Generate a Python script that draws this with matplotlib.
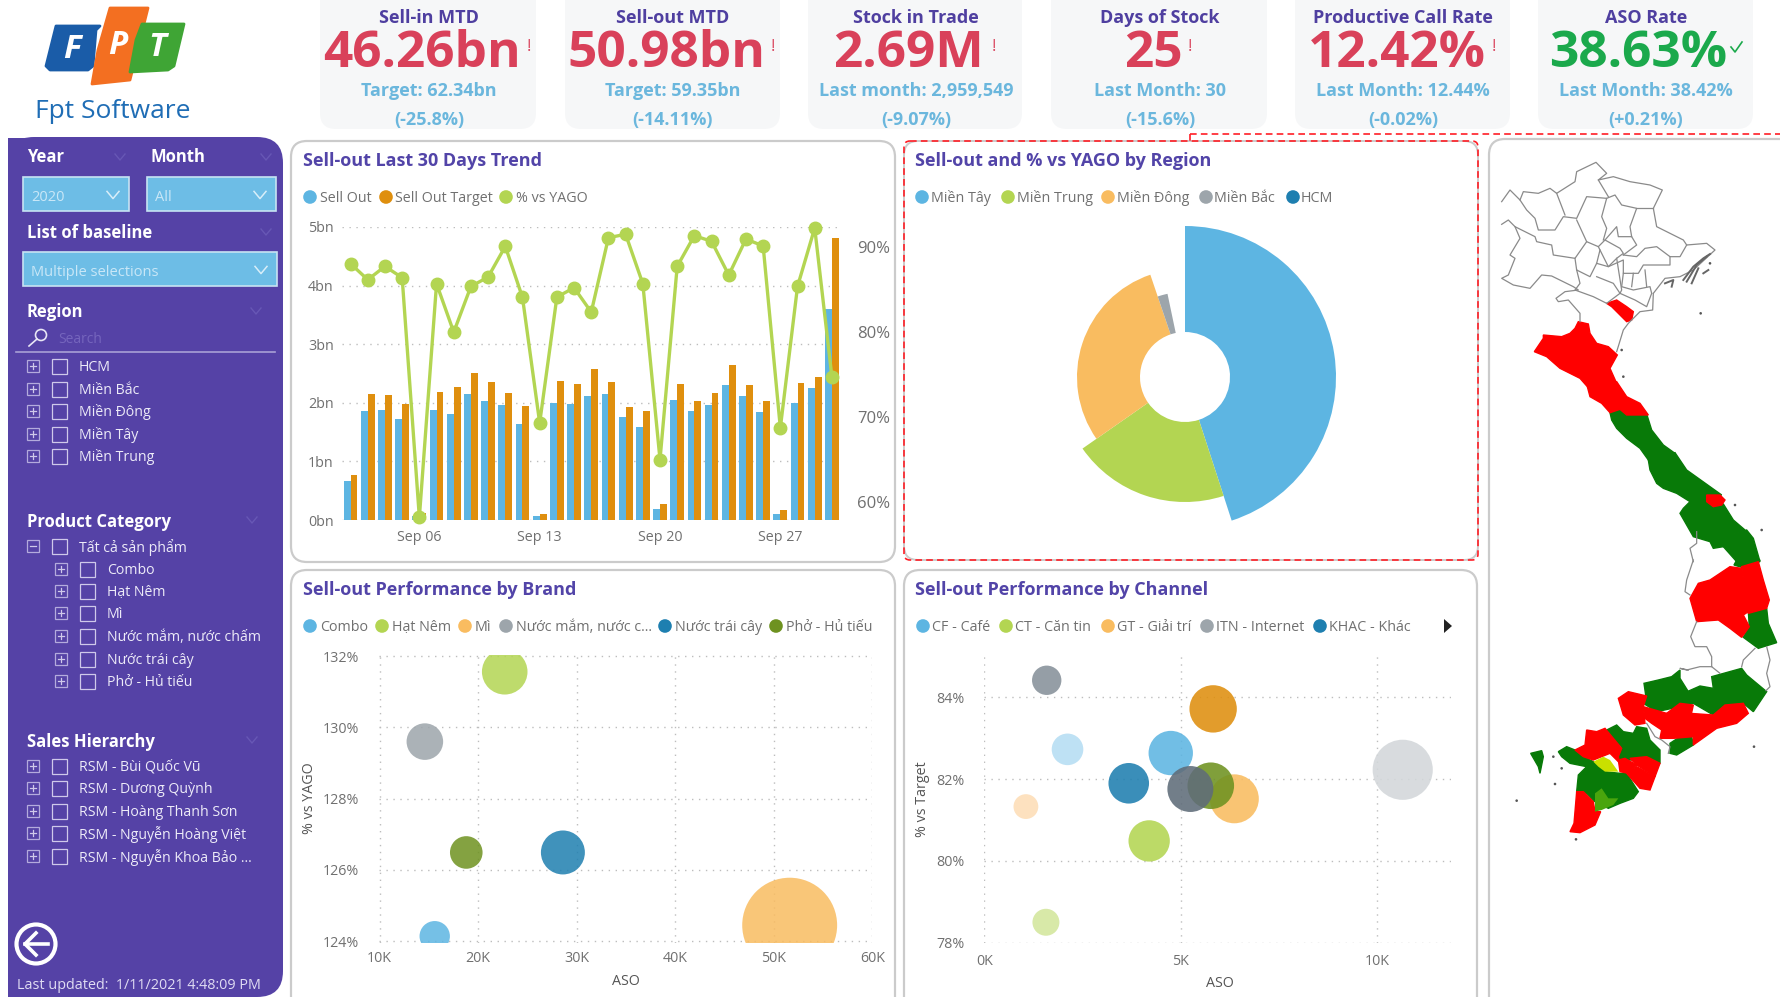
import numpy as np
import matplotlib
matplotlib.use("Agg")
import matplotlib.pyplot as plt
from matplotlib.patches import FancyBboxPatch, Rectangle, Circle, Polygon
from matplotlib.ticker import FuncFormatter

W, H = 1781, 997
plt.rcParams['font.family'] = ['Open Sans', 'Noto Sans', 'DejaVu Sans']

# ---------- data ----------
kpi_titles = ["Sell-in MTD", "Sell-out MTD", "Stock in Trade", "Days of Stock", "Productive Call Rate", "ASO Rate"]
kpi_values = ["46.26bn", "50.98bn", "2.69M", "25", "12.42%", "38.63%"]
kpi_refs = ["Target: 62.34bn", "Target: 59.35bn", "Last month: 2,959,549", "Last Month: 30", "Last Month: 12.44%", "Last Month: 38.42%"]
kpi_deltas = ["(-25.8%)", "(-14.11%)", "(-9.07%)", "(-15.6%)", "(-0.02%)", "(+0.21%)"]

days = ["Sep 02", "Sep 03", "Sep 04", "Sep 05", "Sep 06", "Sep 07", "Sep 08", "Sep 09", "Sep 10", "Sep 11",
        "Sep 12", "Sep 13", "Sep 14", "Sep 15", "Sep 16", "Sep 17", "Sep 18", "Sep 19", "Sep 20", "Sep 21",
        "Sep 22", "Sep 23", "Sep 24", "Sep 25", "Sep 26", "Sep 27", "Sep 28", "Sep 29", "Sep 30"]
sell_out = [0.67, 1.86, 1.87, 1.72, 0.07, 1.87, 1.81, 2.15, 2.03, 1.97, 1.63, 0.07, 2.00, 1.98, 2.11,
            2.15, 1.76, 1.59, 0.18, 2.04, 1.86, 1.97, 2.30, 2.11, 1.84, 0.11, 1.99, 2.25, 3.60]
sell_target = [0.76, 2.15, 2.13, 1.98, 0.12, 2.18, 2.27, 2.51, 2.35, 2.17, 1.94, 0.10, 2.38, 2.32, 2.57,
               2.36, 1.92, 1.86, 0.27, 2.32, 2.03, 2.17, 2.65, 2.31, 2.03, 0.17, 2.33, 2.44, 4.82]
vs_yago = [88.07, 86.18, 87.76, 86.42, 58.15, 85.71, 80.0, 85.39, 86.5, 90.12, 84.09, 69.29, 84.13, 85.24, 82.36,
           91.14, 91.54, 85.71, 64.96, 87.76, 91.38, 90.71, 86.73, 90.98, 90.16, 68.7, 85.39, 92.28, 74.72]

regions = ["Miền Tây", "Miền Trung", "Miền Đông", "Miền Bắc", "HCM"]
region_share = [45.0, 20.3, 29.5, 1.9, 3.3]
region_yago = [151, 125, 108, 85, 45]

brands = ["Combo", "Hạt Nêm", "Mì", "Nước mắm, nước c...", "Nước trái cây", "Phở - Hủ tiếu"]
brand_aso = [15.6, 22.7, 51.6, 14.6, 28.6, 18.8]
brand_pct = [124.14, 131.56, 124.45, 129.6, 126.49, 126.49]
brand_size = [231, 520, 2256, 335, 484, 266]

channels = ["CF - Café", "CT - Căn tin", "GT - Giải trí", "ITN - Internet", "KHAC - Khác"]
channel_aso = [1.59, 5.83, 2.12, 4.75, 3.68, 10.66, 1.06, 4.2, 1.57, 6.37, 5.77, 5.25]
channel_pct = [84.42, 83.72, 82.73, 82.64, 81.9, 82.23, 81.33, 80.49, 78.5, 81.52, 81.84, 81.76]
channel_size = [216, 562, 250, 493, 412, 906, 154, 428, 182, 600, 543, 529]

region_tree = ["HCM", "Miền Bắc", "Miền Đông", "Miền Tây", "Miền Trung"]
product_tree = ["Combo", "Hạt Nêm", "Mì", "Nước mắm, nước chấm", "Nước trái cây", "Phở - Hủ tiếu"]
sales_tree = ["RSM - Bùi Quốc Vũ", "RSM - Dương Quỳnh", "RSM - Hoàng Thanh Sơn", "RSM - Nguyễn Hoàng Việt", "RSM - Nguyễn Khoa Bảo ..."]

# ---------- styles ----------
BLUE, GREEN, ORANGE, GRAY, DBLUE, OLIVE = "#5DB5E2", "#B3D552", "#F9BC60", "#9DA5AB", "#1E7FB0", "#6E9220"
DORANGE = "#DF8F0E"
PURPLE = "#5542A6"
TITLE = "#5244A8"
TXT = "#707070"
GRID = "#BDBDBD"
DOT = (0, (1, 4))
SKY = "#6DBDE6"
RED, DGREEN = "#FF0000", "#087A08"

fig = plt.figure(figsize=(W / 100, H / 100), dpi=100, facecolor="white")
ov = fig.add_axes([0, 0, 1, 1], zorder=0)
ov.set_xlim(0, W); ov.set_ylim(H, 0); ov.axis("off")


def axes_px(l, t, r, b, **kw):
    return fig.add_axes([l / W, 1 - b / H, (r - l) / W, (b - t) / H], **kw)


def rbox(x0, y0, x1, y1, rad, **kw):
    ov.add_patch(FancyBboxPatch((x0, y0), x1 - x0, y1 - y0, boxstyle=f"round,pad=0,rounding_size={rad}", **kw))


# ---------- logo ----------
ov.add_patch(Polygon([(56, 26), (100, 26), (96, 30), (93, 66), (88, 70), (50, 70), (46, 66)], closed=True, fc="#1A5CA8", ec="#1A5CA8", lw=2, joinstyle="round"))
ov.add_patch(Polygon([(110, 8), (148, 8), (130, 80), (92, 84), (98, 50)], closed=True, fc="#F36F21", ec="#F36F21", lw=2, joinstyle="round"))
ov.add_patch(Polygon([(142, 24), (184, 24), (174, 66), (168, 70), (130, 72), (136, 40)], closed=True, fc="#3FA535", ec="#3FA535", lw=2, joinstyle="round"))
for x, y, s in [(72, 49, "F"), (118, 46, "P"), (157, 47, "T")]:
    ov.text(x, y, s, color="white", fontsize=24, fontweight="bold", style="italic", ha="center", va="center")
ov.text(113, 111, "Fpt Software", color="#1F6DB5", fontsize=19, ha="center", va="center")

# ---------- KPI cards ----------
card_x = [(320, 536), (565, 780), (808, 1022), (1051, 1267), (1295, 1510), (1538, 1753)]
title_cx = [429, 673, 916, 1160, 1403, 1646]
value_cx = [422, 666, 908, 1153, 1397, 1638]
mark_x = [529, 773, 994, 1190, 1494, 1736]
for i in range(6):
    rbox(card_x[i][0], -20, card_x[i][1], 129, 16, fc="#F6F7F8", ec="none")
    ok = i == 5
    col = "#1BA94C" if ok else "#D9415A"
    ov.text(title_cx[i], 18, kpi_titles[i], color="#4F3FA0", fontsize=13, fontweight="bold", ha="center", va="center")
    ov.text(value_cx[i], 54, kpi_values[i], color=col, fontsize=37, fontweight="bold", ha="center", va="center")
    ov.text(title_cx[i], 91, kpi_refs[i], color="#6BB7DD", fontsize=13, fontweight="bold", ha="center", va="center")
    ov.text(title_cx[i], 120, kpi_deltas[i], color="#6BB7DD", fontsize=13, fontweight="bold", ha="center", va="center")
    if ok:
        ov.plot([mark_x[i] - 5, mark_x[i] - 1, mark_x[i] + 6], [47, 52, 42], color=col, lw=1.2)
    else:
        ov.text(mark_x[i], 47, "!", color=col, fontsize=12, ha="center", va="center")

# ---------- sidebar ----------
rbox(8, 137, 283, 997, 26, fc=PURPLE, ec="none")
ov.add_patch(Rectangle((8, 138), 100, 859, fc=PURPLE, ec="none"))


def header(x, y, s):
    ov.text(x, y + 1.5, s, color="white", fontsize=12, fontweight="bold", ha="left", va="center")


def chevron(x, y, col="#D8EEF9", s=6, lw=1.1):
    ov.plot([x - s, x, x + s], [y - s * 0.6, y + s * 0.6, y - s * 0.6], color=col, lw=lw)


def dropdown(x0, y0, x1, y1, s):
    ov.add_patch(Rectangle((x0, y0), x1 - x0, y1 - y0, fc=SKY, ec="#C7E3F3", lw=1.2))
    ov.text(x0 + 8, (y0 + y1) / 2 + 3, s, color="#C9E7F7", fontsize=10.5, ha="left", va="center")
    chevron(x1 - 16, (y0 + y1) / 2 + 1)


header(27, 156, "Year"); header(151, 156, "Month")
dropdown(23, 177, 129, 211, "2020")
dropdown(147, 177, 276, 211, "All")
header(27, 231, "List of baseline")
dropdown(23, 252, 277, 286, "Multiple selections")
header(27, 310, "Region")
for x, y in [(120, 157), (266, 157), (266, 232), (256, 311), (252, 520), (252, 740)]:
    chevron(x, y, col="#6757B5", s=5, lw=1)
ov.add_patch(Circle((41, 335), 5.5, fc="none", ec="#E8E6F5", lw=1.2))
ov.plot([29, 37], [346, 339], color="#E8E6F5", lw=1.2)
ov.text(58, 339, "Search", color="#7565BD", fontsize=10, ha="left", va="center")
ov.plot([16, 275], [352, 352], color="#A9A0D6", lw=1.2)


def tree_row(y, s, xbox, sign="+"):
    ov.add_patch(Rectangle((xbox - 6, y - 6), 12, 12, fc="none", ec="#B4ABDD", lw=0.9))
    ov.plot([xbox - 3, xbox + 3], [y, y], color="#CFC9EA", lw=0.9)
    if sign == "+":
        ov.plot([xbox, xbox], [y - 3, y + 3], color="#CFC9EA", lw=0.9)
    ov.add_patch(Rectangle((xbox + 19, y - 7.5), 15, 15, fc="none", ec="#CFC9EA", lw=0.9))
    ov.text(xbox + 46, y + 1, s, color="#EDEBF8", fontsize=10.2, ha="left", va="center")


for y, s in zip([366, 389, 411, 434, 456], region_tree):
    tree_row(y, s, 33)
header(27, 520, "Product Category")
tree_row(546, "Tất cả sản phẩm", 33, "-")
for y, s in zip([569, 591, 613, 636, 659, 681], product_tree):
    tree_row(y, s, 61)
header(27, 740, "Sales Hierarchy")
for y, s in zip([766, 788, 811, 833, 856], sales_tree):
    tree_row(y, s, 33)
ov.add_patch(Circle((36, 944), 19.5, fc="none", ec="white", lw=3))
ov.plot([48, 25], [944, 944], color="white", lw=2.6)
ov.plot([36, 25, 36], [933, 944, 955], color="white", lw=2.6)
ov.text(17, 985.5, "Last updated:  1/11/2021 4:48:09 PM", color="#E0DCF3", fontsize=10.4, ha="left", va="center")

# ---------- panels ----------
EDGE = "#CBCBCB"
RDASH = "#FF1E26"
rbox(291, 141, 895, 562, 16, fc="white", ec=EDGE, lw=1.6)
rbox(904, 141, 1478, 560, 14, fc="white", ec=EDGE, lw=1.4)
rbox(291, 570, 895, 1030, 16, fc="white", ec=EDGE, lw=1.6)
rbox(904, 570, 1477, 1030, 16, fc="white", ec=EDGE, lw=1.6)
rbox(1489, 139, 1830, 1030, 16, fc="white", ec=EDGE, lw=1.6)
rbox(904, 141, 1478, 560, 6, fc="none", ec=RDASH, lw=1.2, ls=(0, (4, 2.5)))
ov.plot([1190, 1781], [134, 134], color=RDASH, lw=1.2, ls=(0, (4, 2.5)))
ov.plot([1190, 1190], [134, 141], color=RDASH, lw=1.2, ls=(0, (4, 2.5)))


def title(x, y, s):
    ov.text(x, y + 1.5, s, color=TITLE, fontsize=13, fontweight="bold", ha="left", va="center")


def legend(y, circles, texts, labels, colors):
    for cx, tx, s, c in zip(circles, texts, labels, colors):
        ov.add_patch(Circle((cx, y), 6.8, fc=c, ec="none"))
        ov.text(tx, y + 1, s, color=TXT, fontsize=10.3, ha="left", va="center")


title(303, 159, "Sell-out Last 30 Days Trend")
title(915, 159, "Sell-out and % vs YAGO by Region")
title(303, 588, "Sell-out Performance by Brand")
title(915, 588, "Sell-out Performance by Channel")

legend(197, [310, 386, 506], [320, 395, 516], ["Sell Out", "Sell Out Target", "% vs YAGO"], [BLUE, DORANGE, GREEN])
legend(197, [922, 1008, 1108, 1206, 1293], [931, 1017, 1117, 1214, 1301], regions, [BLUE, GREEN, ORANGE, GRAY, DBLUE])
legend(626, [310, 382, 465, 506, 665, 776], [320, 392, 475, 516, 675, 786], brands, [BLUE, GREEN, ORANGE, GRAY, DBLUE, OLIVE])
legend(626, [923, 1006, 1108, 1207, 1320], [932, 1015, 1117, 1216, 1329], channels, [BLUE, GREEN, ORANGE, GRAY, DBLUE])
ov.add_patch(Polygon([(1444, 619), (1452, 626), (1444, 633)], closed=True, fc="#222222", ec="none"))

# ---------- combo chart ----------
a1 = axes_px(342, 227, 840.5, 520, zorder=2)
a1.patch.set_alpha(0)
x = np.arange(len(days))
a1.bar(x - 0.2, sell_out, 0.4, color=BLUE, zorder=2)
a1.bar(x + 0.2, sell_target, 0.4, color=DORANGE, zorder=2)
a1.set_xlim(-0.5, 28.5); a1.set_ylim(0, 5)
a1.set_yticks(range(6))
a1.yaxis.set_major_formatter(FuncFormatter(lambda v, _: f"{int(v)}bn"))
a1.set_xticks(x[4::7]); a1.set_xticklabels(days[4::7])
a1.grid(axis="y", color=GRID, ls=DOT, lw=1)
a1.set_axisbelow(True)
a1.tick_params(length=0, labelsize=10.3, labelcolor=TXT, pad=6)
a1.tick_params(axis="x", pad=7)
for s in a1.spines.values():
    s.set_visible(False)
a1r = a1.twinx()
a1r.set_zorder(3)
a1r.plot(x, vs_yago, color=GREEN, lw=2.4, marker="o", ms=9, clip_on=False)
a1r.set_ylim(57.84, 92.4)
a1r.set_yticks([60, 70, 80, 90])
a1r.yaxis.set_major_formatter(FuncFormatter(lambda v, _: f"{int(v)}%"))
a1r.tick_params(length=0, labelsize=12, labelcolor=TXT, pad=12)
for s in a1r.spines.values():
    s.set_visible(False)

# ---------- rose / pie ----------
ap = axes_px(1185 - 160, 377 - 160, 1185 + 160, 377 + 160, projection="polar", zorder=2)
ap.patch.set_alpha(0)
ap.set_theta_zero_location("N"); ap.set_theta_direction(-1)
widths = np.array(region_share) / 100 * 2 * np.pi
starts = np.concatenate([[0], np.cumsum(widths)[:-1]])
INNER = 45
ap.bar(starts, np.array(region_yago) - INNER, widths, bottom=INNER, align="edge",
       color=[BLUE, GREEN, ORANGE, GRAY, DBLUE], ec="none")
ap.set_ylim(0, 160); ap.axis("off")


# ---------- bubbles ----------
def scatter_style(ax, xlabel_pos, ylabel_pos, xlabel, ylabel):
    ax.patch.set_alpha(0)
    ax.grid(True, color=GRID, ls=DOT, lw=1)
    ax.set_axisbelow(True)
    ax.tick_params(length=0, labelsize=10.3, labelcolor=TXT)
    for s in ax.spines.values():
        s.set_visible(False)
    ov.text(*xlabel_pos, xlabel, color="#555555", fontsize=10.3, ha="center", va="center")
    ov.text(*ylabel_pos, ylabel, color="#555555", fontsize=10.3, ha="center", va="center", rotation=90)


AREA = 2.07
a3 = axes_px(379.5, 655, 872.5, 943, zorder=2)
a3.scatter(brand_aso, brand_pct, s=np.array(brand_size) * AREA,
           c=[BLUE, GREEN, ORANGE, GRAY, DBLUE, OLIVE], alpha=0.85, ec="none", zorder=3)
a3.set_xlim(10, 60); a3.set_ylim(123.95, 132.03)
a3.set_xticks([10, 20, 30, 40, 50, 60]); a3.set_yticks([124, 126, 128, 130, 132])
a3.xaxis.set_major_formatter(FuncFormatter(lambda v, _: f"{int(v)}K"))
a3.yaxis.set_major_formatter(FuncFormatter(lambda v, _: f"{int(v)}%"))
scatter_style(a3, (626, 981), (310, 798), "ASO", "% vs YAGO")
a3.tick_params(axis="y", pad=15); a3.tick_params(axis="x", pad=6)

a4 = axes_px(984.3, 653.3, 1451.4, 942.7, zorder=2)
channel_colors = ["#87919A", "#DF8F0E", "#B5DDF3", "#5DB5E2", "#1E7FB0", "#D3D7DA",
                  "#FDDDB6", "#B3D552", "#D3E69C", ORANGE, OLIVE, "#5F6C79"]
a4.scatter(channel_aso, channel_pct, s=np.array(channel_size) * AREA, c=channel_colors,
           alpha=0.88, ec="none", zorder=3)
a4.set_xlim(0, 11.9); a4.set_ylim(78, 85.08)
a4.set_xticks([0, 5, 10]); a4.set_yticks([78, 80, 82, 84])
a4.xaxis.set_major_formatter(FuncFormatter(lambda v, _: f"{int(v)}K"))
a4.yaxis.set_major_formatter(FuncFormatter(lambda v, _: f"{int(v)}%"))
scatter_style(a4, (1220, 983), (923, 799), "ASO", "% vs Target")
a4.tick_params(axis="y", pad=14); a4.tick_params(axis="x", pad=8)

# ---------- map (outline, crop coordinates, 3x) ----------
def m(pts, off):
    return [(1480 + px / 3, off + py / 3) for px, py in pts]


north_outline = [(65, 215), (90, 180), (120, 210), (130, 185), (175, 190), (210, 175), (230, 190), (285, 155), (290, 125),
                 (348, 97), (380, 130), (355, 150), (400, 140), (450, 155), (510, 165), (547, 180), (520, 235), (530, 290),
                 (610, 330), (620, 345), (680, 340), (705, 360), (640, 420), (600, 440), (555, 445), (520, 490), (518, 540),
                 (480, 545), (445, 580), (430, 600), (410, 665)]
north_outline2 = [(300, 575), (300, 550), (265, 510), (235, 515), (228, 505), (255, 485), (295, 480), (280, 470), (215, 438),
                  (185, 435), (150, 475), (100, 465), (65, 445), (85, 435), (105, 385), (90, 375), (120, 325), (105, 290),
                  (85, 270), (65, 283)]
north_lines = [
    [(120, 210), (140, 240), (165, 265), (175, 300), (225, 300), (250, 260), (290, 265), (320, 200), (380, 205), (365, 260), (380, 295), (370, 330)],
    [(230, 190), (255, 255)],
    [(105, 290), (165, 320), (170, 335), (215, 345), (220, 375), (285, 385), (320, 335), (290, 270)],
    [(320, 335), (355, 350), (375, 330), (410, 290), (415, 320), (455, 320), (450, 290), (470, 235), (425, 225), (405, 195), (380, 205)],
    [(355, 150), (385, 200)], [(520, 235), (470, 235)],
    [(285, 385), (290, 420), (330, 440), (350, 400), (360, 360), (355, 350)],
    [(360, 360), (385, 410), (410, 385), (430, 370), (420, 355), (375, 330)],
    [(430, 375), (470, 380), (495, 355), (530, 350), (570, 380), (600, 380), (620, 345)],
    [(455, 320), (470, 345), (430, 375)],
    [(350, 400), (385, 410), (430, 390), (430, 430), (475, 430), (490, 405), (570, 405), (570, 380)],
    [(290, 420), (300, 460), (285, 480), (340, 500), (380, 520)],
    [(430, 430), (425, 470), (460, 480), (510, 470), (515, 490)],
    [(410, 385), (425, 480), (420, 490), (380, 520)],
    [(460, 430), (455, 470)], [(500, 470), (495, 420)],
    [(350, 440), (400, 460), (420, 490), (465, 510), (500, 530), (515, 490)],
]
for ln in [north_outline, north_outline2] + north_lines:
    p = m(ln, 130)
    ov.plot(*zip(*p), color="#8A8A8A", lw=0.9, solid_joinstyle="round")
for ln in [[(610, 450), (640, 410), (670, 385), (690, 372)], [(620, 455), (650, 405), (680, 380)], [(635, 460), (655, 415)],
           [(555, 460), (580, 450), (575, 470)], [(670, 430), (685, 420)]]:
    ov.plot(*zip(*m(ln, 130)), color="#666666", lw=1.4)

red_z9 = [
    [(380, 520), (410, 510), (440, 530), (460, 545), (455, 570), (440, 575), (415, 550), (395, 530)],
    [(295, 575), (325, 582), (330, 610), (350, 640), (385, 650), (412, 675), (390, 715), (410, 760), (350, 770), (322, 770), (300, 745), (240, 715), (200, 680), (163, 665), (190, 625), (190, 615), (245, 620), (270, 610), (285, 595)],
    [(322, 770), (410, 755), (440, 800), (480, 820), (505, 855), (440, 855), (420, 838), (390, 848), (365, 820), (330, 800)],
]
green_z9 = [
    [(390, 848), (420, 838), (445, 855), (500, 852), (515, 900), (550, 945), (585, 970), (540, 990), (505, 990), (480, 955), (440, 925), (410, 895), (395, 870)],
    [(505, 990), (585, 968), (620, 1020), (690, 1070), (725, 1095), (680, 1105), (680, 1110), (630, 1115), (590, 1090), (550, 1075), (530, 1060), (510, 1020)],
    [(630, 1115), (680, 1110), (700, 1130), (730, 1122), (760, 1170), (795, 1200), (740, 1215), (730, 1250), (700, 1255), (690, 1235), (640, 1220), (600, 1150), (610, 1135)],
    [(740, 1215), (800, 1200), (820, 1225), (840, 1295), (770, 1295), (730, 1250)],
]
red_z9b = [[(680, 1095), (720, 1095), (735, 1110), (725, 1125), (700, 1130), (680, 1115)]]
red_z10 = [
    [(630, 115), (655, 70), (690, 60), (750, 20), (785, 25), (805, 155), (790, 165), (808, 200), (785, 232), (750, 205), (715, 180), (650, 185)],
    [(785, 20), (835, 5), (850, 60), (868, 120), (860, 145), (805, 160)],
    [(415, 415), (445, 395), (500, 408), (490, 440), (495, 490), (465, 495), (430, 465)],
    [(490, 440), (525, 450), (560, 460), (545, 510), (515, 490), (495, 475)],
    [(560, 460), (600, 430), (640, 435), (630, 480), (640, 530), (580, 535), (540, 535), (545, 510)],
    [(630, 460), (700, 465), (735, 435), (790, 430), (805, 460), (770, 490), (710, 505), (640, 555), (640, 530), (625, 490)],
    [(285, 570), (315, 555), (320, 510), (350, 515), (375, 505), (400, 535), (425, 565), (415, 590), (420, 610), (390, 580), (365, 590), (340, 600), (310, 590)],
    [(415, 600), (435, 595), (470, 615), (445, 640), (420, 635)],
    [(450, 595), (500, 590), (540, 610), (525, 650), (470, 615)],
    [(440, 640), (470, 620), (525, 650), (510, 690), (480, 685)],
    [(290, 695), (310, 695), (340, 725), (345, 755), (362, 755), (345, 795), (300, 818), (270, 815), (282, 790)],
]
green_z10 = [
    [(762, 15), (770, 0), (840, 0), (835, 8), (785, 22)],
    [(805, 155), (860, 145), (865, 190), (890, 248), (835, 265), (790, 232), (808, 200)],
    [(492, 370), (535, 360), (575, 350), (600, 330), (600, 355), (625, 395), (610, 410), (600, 440), (530, 455), (490, 430), (497, 405)],
    [(610, 400), (660, 378), (700, 385), (695, 350), (785, 325), (800, 345), (860, 395), (820, 455), (790, 430), (735, 435), (700, 465), (640, 430), (600, 440)],
    [(570, 550), (600, 530), (635, 530), (640, 555), (590, 585), (570, 580)],
    [(380, 510), (410, 495), (430, 515), (460, 520), (470, 500), (500, 505), (510, 540), (540, 570), (540, 610), (500, 600), (460, 600), (415, 600), (425, 560), (400, 535)],
    [(235, 575), (260, 560), (285, 570), (310, 590), (340, 605), (355, 620), (375, 635), (420, 640), (440, 640), (475, 695), (460, 715), (420, 730), (385, 745), (345, 725), (320, 700), (290, 695), (295, 645), (320, 620), (270, 610), (245, 590)],
    [(152, 580), (185, 572), (190, 590), (180, 640), (175, 620)],
]
for poly in green_z9:
    ov.add_patch(Polygon(m(poly, 130), closed=True, fc=DGREEN, ec=DGREEN, lw=1))
for poly in red_z9 + red_z9b:
    ov.add_patch(Polygon(m(poly, 130), closed=True, fc=RED, ec=RED, lw=1))
for poly in green_z10:
    ov.add_patch(Polygon(m(poly, 560), closed=True, fc=DGREEN, ec=DGREEN, lw=1))
for poly in red_z10:
    ov.add_patch(Polygon(m(poly, 560), closed=True, fc=RED, ec=RED, lw=1))
ov.add_patch(Polygon(m([(340, 605), (370, 590), (390, 600), (415, 635), (375, 635), (355, 620)], 560), closed=True, fc="#C9E000", ec="none"))
ov.add_patch(Polygon(m([(345, 700), (365, 685), (385, 715), (415, 715), (400, 735), (365, 750), (345, 755)], 560), closed=True, fc="#4AA50D", ec="none"))
for ln, off in [([(650, 1205), (650, 1240), (630, 1255), (640, 1295)], 130),
                ([(640, 0), (620, 60), (615, 95), (630, 105)], 560),
                ([(650, 185), (632, 230), (645, 260), (680, 260), (695, 290), (695, 320), (720, 340)], 560),
                ([(625, 330), (600, 325), (620, 330), (660, 320), (695, 320)], 560),
                ([(785, 320), (790, 300), (825, 265)], 560),
                ([(860, 260), (870, 300), (860, 340), (870, 380), (858, 392)], 560),
                ([(500, 490), (525, 530), (545, 540), (570, 560), (565, 580)], 560)]:
    ov.plot(*zip(*m(ln, off)), color="#8A8A8A", lw=0.9)
for sx, sy, off in [(662, 550, 130), (425, 660, 130), (430, 740, 130), (690, 400, 130), (765, 1125, 130), (845, 1200, 130),
                    (822, 560, 560), (225, 672, 560), (110, 722, 560), (288, 838, 560), (220, 590, 560), (245, 625, 560)]:
    ov.add_patch(Circle(m([(sx, sy)], off)[0], 1.3, fc="#555555", ec="none"))

fig.savefig("out.png", dpi=100)
